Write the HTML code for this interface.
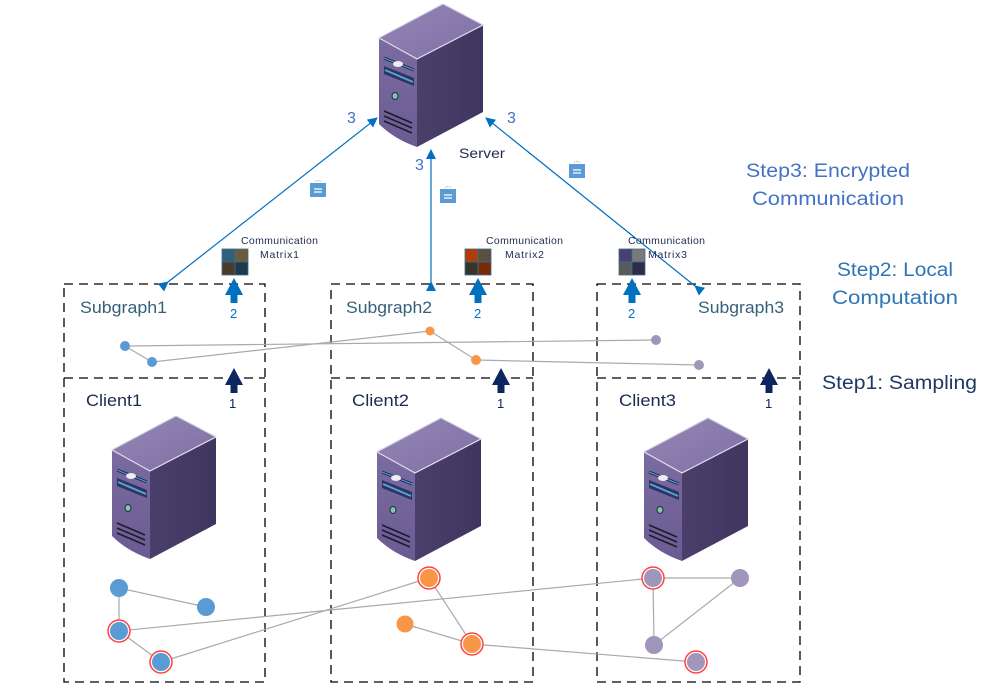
<!DOCTYPE html>
<html><head><meta charset="utf-8"><style>
body{margin:0;background:#fff;}
svg{display:block;font-family:"Liberation Sans",sans-serif;}
</style></head><body>
<svg width="993" height="696" viewBox="0 0 993 696" xmlns="http://www.w3.org/2000/svg">
<defs>
<linearGradient id="front" x1="0" y1="0" x2="0" y2="1"><stop offset="0" stop-color="#7a6ca0"/><stop offset="1" stop-color="#6a5c92"/></linearGradient>
<linearGradient id="side" x1="0" y1="0" x2="1" y2="0"><stop offset="0" stop-color="#4a3f6a"/><stop offset="1" stop-color="#3f3660"/></linearGradient>
<linearGradient id="top" x1="0" y1="0" x2="1" y2="1"><stop offset="0" stop-color="#9486b4"/><stop offset="1" stop-color="#7e70a6"/></linearGradient>
<g id="tower">
<path d="M0,0 L64,-34 L104,-13 L38,21 Z" fill="url(#top)" stroke="#cfc8e0" stroke-width="1"/>
<path d="M38,21 L104,-13 L104,74 L38,109 Z" fill="url(#side)"/>
<path d="M0,0 L38,21 L38,109 Q15,101 0,86 Z" fill="url(#front)"/>
<path d="M0,0 L38,21 L104,-13" fill="none" stroke="#e6e0f0" stroke-width="1"/>
<path d="M5,20 L35,32" stroke="#1d2a50" stroke-width="3"/>
<path d="M5,20 L35,32" stroke="#5aa0d8" stroke-width="1"/>
<ellipse cx="19" cy="26" rx="5" ry="3" fill="#eee"/>
<path d="M5,28 L35,40 L35,48 L5,36 Z" fill="#2a3560"/>
<path d="M6,32 L34,44" stroke="#5aa0d8" stroke-width="2"/>
<ellipse cx="16" cy="58" rx="3" ry="3.5" fill="#7fc8a0" stroke="#1d2a50"/>
<path d="M5,73 L33,85 M5,78 L33,90 M5,83 L33,95" stroke="#1d1a30" stroke-width="1.6"/>
</g>
<marker id="ah" markerWidth="10" markerHeight="10" refX="9" refY="5" orient="auto" markerUnits="userSpaceOnUse"><path d="M0,0 L10,5 L0,10 Z" fill="#0070c0"/></marker>
<g id="lock"><path d="M-3,-4 A3.5,3.5 0 0 1 3,-4" fill="none" stroke="#aaa" stroke-width="0.8" stroke-dasharray="1.5 1"/><rect x="-8" y="-3" width="16" height="14" fill="#5b9bd5"/><path d="M-4,3 H4 M-4,6 H4" stroke="#fff" stroke-width="1.2"/></g>
<g id="up"><path d="M0,-17 L-9,0 L-3.5,0 L-3.5,8 L3.5,8 L3.5,0 L9,0 Z"/></g>
</defs>

<use href="#tower" x="379" y="38"/>
<use href="#tower" x="112" y="450"/>
<use href="#tower" x="377" y="452"/>
<use href="#tower" x="644" y="452"/>

<g fill="none" stroke="#000" stroke-width="1.3" stroke-dasharray="9 6">
<rect x="64" y="284" width="201" height="398"/>
<rect x="331" y="284" width="202" height="398"/>
<rect x="597" y="284" width="203" height="398"/>
<path d="M64,378 H265 M331,378 H533 M597,378 H800"/>
</g>

<g stroke="#0070c0" stroke-width="1.2" fill="none">
<line x1="168" y1="282" x2="377" y2="118" marker-end="url(#ah)" marker-start="url(#ah)"/>
<line x1="431" y1="282" x2="431" y2="150" marker-end="url(#ah)" marker-start="url(#ah)"/>
<line x1="695" y1="286" x2="486" y2="118" marker-end="url(#ah)" marker-start="url(#ah)"/>
</g>
<g fill="#4472c4" font-size="16"><text x="347" y="123">3</text><text x="415" y="170">3</text><text x="507" y="123">3</text></g>
<text x="459" y="158" font-size="14" fill="#1f2a50" textLength="46" lengthAdjust="spacingAndGlyphs">Server</text>
<use href="#lock" x="318" y="186"/><use href="#lock" x="448" y="192"/><use href="#lock" x="577" y="167"/>

<g stroke="#3a6e8a" stroke-width="0.8">
<rect x="222" y="249" width="13" height="13" fill="#2f5f7a"/><rect x="235" y="249" width="13" height="13" fill="#6e5a3c"/>
<rect x="222" y="262" width="13" height="13" fill="#4a3c28"/><rect x="235" y="262" width="13" height="13" fill="#1f3a4a"/>
<rect x="465" y="249" width="13" height="13" fill="#b03c0a"/><rect x="478" y="249" width="13" height="13" fill="#5a5040"/>
<rect x="465" y="262" width="13" height="13" fill="#3a3428"/><rect x="478" y="262" width="13" height="13" fill="#7a2a08"/>
<rect x="619" y="249" width="13" height="13" fill="#4a4070"/><rect x="632" y="249" width="13" height="13" fill="#7a7a7a"/>
<rect x="619" y="262" width="13" height="13" fill="#5a5a5a"/><rect x="632" y="262" width="13" height="13" fill="#2e2a48"/>
</g>
<g font-size="10.5" fill="#1f2a50" lengthAdjust="spacingAndGlyphs">
<text x="241" y="244" textLength="77">Communication</text><text x="260" y="258" textLength="39">Matrix1</text>
<text x="486" y="244" textLength="77">Communication</text><text x="505" y="258" textLength="39">Matrix2</text>
<text x="628" y="244" textLength="77">Communication</text><text x="648" y="258" textLength="39">Matrix3</text>
</g>

<g fill="#0070c0"><use href="#up" x="234" y="295"/><use href="#up" x="478" y="295"/><use href="#up" x="632" y="295"/></g>
<g fill="#0070c0" font-size="13"><text x="230" y="318">2</text><text x="474" y="318">2</text><text x="628" y="318">2</text></g>
<g fill="#0d2660"><use href="#up" x="234" y="385"/><use href="#up" x="501" y="385"/><use href="#up" x="769" y="385"/></g>
<g fill="#0d2660" font-size="13"><text x="229" y="408">1</text><text x="497" y="408">1</text><text x="765" y="408">1</text></g>

<g font-size="17" fill="#35607a"><text x="80" y="313" textLength="87" lengthAdjust="spacingAndGlyphs">Subgraph1</text><text x="346" y="313" textLength="86" lengthAdjust="spacingAndGlyphs">Subgraph2</text><text x="698" y="313" textLength="86" lengthAdjust="spacingAndGlyphs">Subgraph3</text></g>
<g font-size="17" fill="#1f2a50"><text x="86" y="406" textLength="56" lengthAdjust="spacingAndGlyphs">Client1</text><text x="352" y="406" textLength="57" lengthAdjust="spacingAndGlyphs">Client2</text><text x="619" y="406" textLength="57" lengthAdjust="spacingAndGlyphs">Client3</text></g>
<g font-size="19" fill="#4472c4"><text x="746" y="177" textLength="164" lengthAdjust="spacingAndGlyphs">Step3: Encrypted</text><text x="752" y="205" textLength="152" lengthAdjust="spacingAndGlyphs">Communication</text></g>
<g font-size="19" fill="#2e75b6"><text x="837" y="276" textLength="116" lengthAdjust="spacingAndGlyphs">Step2: Local</text><text x="832" y="304" textLength="126" lengthAdjust="spacingAndGlyphs">Computation</text></g>
<text x="822" y="389" font-size="19" fill="#1f3864" textLength="155" lengthAdjust="spacingAndGlyphs">Step1: Sampling</text>

<g stroke="#aaa" stroke-width="1.2">
<line x1="125" y1="346" x2="656" y2="340"/><line x1="125" y1="346" x2="152" y2="362"/>
<line x1="152" y1="362" x2="430" y2="331"/><line x1="430" y1="331" x2="476" y2="360"/>
<line x1="476" y1="360" x2="699" y2="365"/>
</g>
<circle cx="125" cy="346" r="5" fill="#5b9bd5"/><circle cx="152" cy="362" r="5" fill="#5b9bd5"/>
<circle cx="430" cy="331" r="4.5" fill="#f79646"/><circle cx="476" cy="360" r="5" fill="#f79646"/>
<circle cx="656" cy="340" r="5" fill="#a096bc"/><circle cx="699" cy="365" r="5" fill="#a096bc"/>

<g stroke="#aaa" stroke-width="1.2">
<line x1="119" y1="588" x2="206" y2="607"/><line x1="119" y1="588" x2="119" y2="631"/>
<line x1="119" y1="631" x2="161" y2="662"/><line x1="119" y1="631" x2="653" y2="578"/>
<line x1="161" y1="662" x2="429" y2="578"/><line x1="429" y1="578" x2="472" y2="644"/>
<line x1="405" y1="624" x2="472" y2="644"/><line x1="472" y1="644" x2="696" y2="662"/>
<line x1="653" y1="578" x2="740" y2="578"/><line x1="653" y1="578" x2="654" y2="645"/>
<line x1="740" y1="578" x2="654" y2="645"/>
</g>
<g stroke="#ff4040" stroke-width="1.5" fill="#fff">
<circle cx="119" cy="631" r="11"/><circle cx="161" cy="662" r="11"/>
<circle cx="429" cy="578" r="11"/><circle cx="472" cy="644" r="11"/>
<circle cx="653" cy="578" r="11"/><circle cx="696" cy="662" r="11"/>
</g>
<g fill="#5b9bd5"><circle cx="119" cy="588" r="9"/><circle cx="206" cy="607" r="9"/><circle cx="119" cy="631" r="9"/><circle cx="161" cy="662" r="9"/></g>
<g fill="#f79646"><circle cx="429" cy="578" r="9"/><circle cx="405" cy="624" r="8.5"/><circle cx="472" cy="644" r="9"/></g>
<g fill="#a096bc"><circle cx="653" cy="578" r="9"/><circle cx="740" cy="578" r="9"/><circle cx="654" cy="645" r="9"/><circle cx="696" cy="662" r="9"/></g>
</svg>
</body></html>
